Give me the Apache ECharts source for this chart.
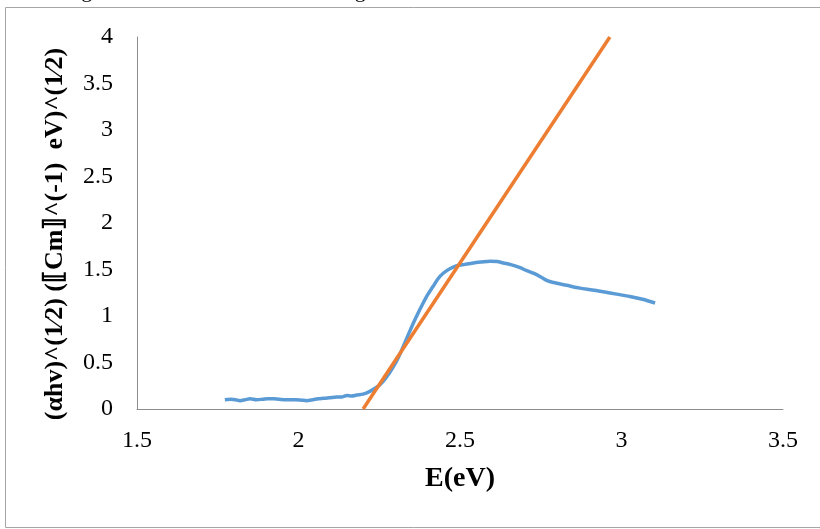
<!DOCTYPE html>
<html>
<head>
<meta charset="utf-8">
<script src="https://cdn.jsdelivr.net/npm/echarts@6/dist/echarts.min.js"></script>
<style>
html,body{margin:0;padding:0;background:#fff;}
#chart{width:820px;height:529px;}
</style>
</head>
<body>
<div id="chart"></div>
<script>
// Measured curve: E (eV) vs (αhν)^(1/2)
const energy = [1.772,1.79,1.805,1.819,1.835,1.85,1.87,1.89,1.905,1.922,1.94,1.963,1.99,2.01,2.025,2.045,2.06,2.077,2.095,2.118,2.135,2.15,2.165,2.18,2.2,2.221,2.24,2.252,2.27,2.293,2.31,2.324,2.34,2.355,2.37,2.386,2.40,2.417,2.432,2.448,2.47,2.49,2.515,2.541,2.565,2.593,2.615,2.634,2.66,2.686,2.705,2.727,2.75,2.77,2.789,2.83,2.871,2.91,2.944,2.985,3.026,3.065,3.104];
const absorb = [0.10,0.105,0.10,0.09,0.10,0.11,0.10,0.105,0.11,0.11,0.105,0.10,0.10,0.095,0.09,0.10,0.11,0.115,0.12,0.13,0.13,0.145,0.14,0.15,0.16,0.19,0.23,0.26,0.33,0.45,0.56,0.67,0.80,0.92,1.03,1.14,1.23,1.32,1.40,1.46,1.51,1.54,1.555,1.57,1.58,1.59,1.585,1.57,1.55,1.52,1.49,1.46,1.42,1.38,1.36,1.33,1.30,1.28,1.26,1.235,1.21,1.18,1.14];
// Linear fit (Tauc extrapolation)
const fitX = [2.2, 2.964];
const fitY = [0, 4];
const xTicks = [1.5, 2, 2.5, 3, 3.5];
const yTicks = [0, 0.5, 1, 1.5, 2, 2.5, 3, 3.5, 4];
const xTitle = 'E(eV)';
const yTitle = '(αhv)^(1⁄2) (⟦Cm⟧^(-1)  eV)^(1⁄2)';
const topText = 'the edges toward the shorter wavelengths.';

const chart = echarts.init(document.getElementById('chart'));
const serif = 'Liberation Serif';
chart.setOption({
  animation: false,
  backgroundColor: '#fff',
  graphic: [
    {type:'rect', shape:{x:5.5,y:7.5,width:830,height:520}, style:{fill:'none',stroke:'#a6a6a6',lineWidth:1}, z:-1},
    {type:'text', left:28, top:-20, style:{text:topText, font:'22px "Liberation Serif"', fill:'#000'}}
  ],
  grid: {left:137, right:37, top:37, bottom:120},
  xAxis: {
    type:'value', min:xTicks[0], max:xTicks[xTicks.length-1], interval:0.5,
    name:xTitle, nameLocation:'middle', nameGap:56,
    nameTextStyle:{fontFamily:serif, fontSize:28, fontWeight:'bold', color:'#000'},
    axisLine:{show:true, lineStyle:{color:'#8c8c8c', width:1}},
    axisTick:{show:false},
    splitLine:{show:false},
    axisLabel:{fontFamily:serif, fontSize:24, color:'#000', margin:20,
      formatter: v => String(v)}
  },
  yAxis: {
    type:'value', min:yTicks[0], max:yTicks[yTicks.length-1], interval:0.5,
    name:yTitle, nameLocation:'middle', nameGap:69,
    nameTextStyle:{fontFamily:serif, fontSize:26, fontWeight:'bold', color:'#000', padding:[0,22,0,0]},
    axisLine:{show:true, lineStyle:{color:'#8c8c8c', width:1}},
    axisTick:{show:false},
    splitLine:{show:false},
    axisLabel:{fontFamily:serif, fontSize:24, color:'#000', margin:24,
      formatter: v => String(v)}
  },
  series: [
    {type:'line', data: energy.map((e,i)=>[e, absorb[i]]), showSymbol:false, smooth:0.3,
     lineStyle:{color:'#5b9bd5', width:3.5}, z:2},
    {type:'line', data: fitX.map((e,i)=>[e, fitY[i]]), showSymbol:false,
     lineStyle:{color:'#ed7d31', width:3.5}, z:3}
  ]
});
</script>
</body>
</html>
